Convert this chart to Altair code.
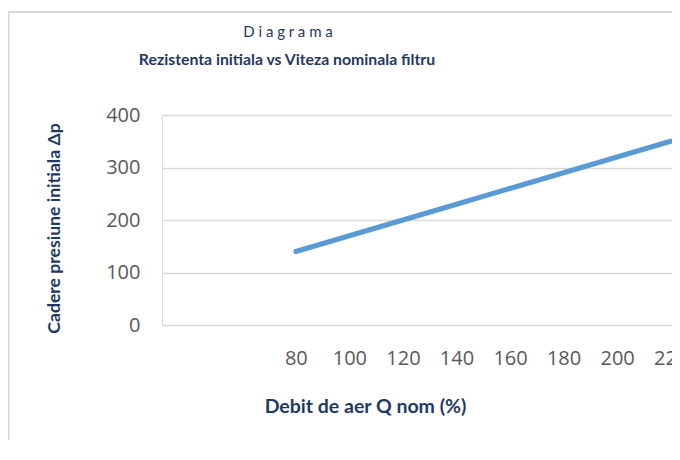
import altair as alt
import pandas as pd

debit = [80, 100, 120, 140, 160, 180, 200, 220]
cadere = [140, 170, 200, 230, 260, 290, 320, 350]
x_ticks = [80, 100, 120, 140, 160, 180, 200, 220]
y_ticks = [0, 100, 200, 300, 400]

title_text = "D i a g r a m a"
subtitle_text = "Rezistenta initiala vs Viteza nominala filtru"
x_title = "Debit de aer Q nom (%)"
y_title = "Cadere presiune initiala Δp"

df = pd.DataFrame({"debit": debit, "cadere": cadere})

NAVY = "#1f3864"
GRAY = "#595959"

line = alt.Chart(df).mark_line(
    color="#5b9bd5", strokeWidth=5, strokeCap="round", clip=False
).encode(
    x=alt.X(
        "debit:Q",
        scale=alt.Scale(domain=[30, 220.5], nice=False, zero=False),
        axis=alt.Axis(
            values=x_ticks, grid=False, domain=False, ticks=False,
            labelPadding=23, labelFontSize=20, labelColor=GRAY, labelFont="Open Sans",
            labelFlush=False, labelOverlap=False, labelBound=False,
            title=x_title, titleFont="Lato", titleFontSize=19.5, titleFontWeight="bold",
            titleColor=NAVY, titleX=203, titleY=81, titleBaseline="middle",
            titleAlign="center",
        ),
    ),
    y=alt.Y(
        "cadere:Q",
        scale=alt.Scale(domain=[0, 400], nice=False),
        axis=alt.Axis(
            values=y_ticks, grid=True, gridColor="#d9d9d9", gridWidth=1.3,
            domain=False, ticks=False, labelPadding=22, labelFontSize=20,
            labelColor=GRAY, labelFont="Open Sans",
            title=y_title, titleFont="Lato", titleFontSize=17.6, titleFontWeight="bold",
            titleColor=NAVY, titleX=-108, titleY=113, titleAngle=-90,
            titleBaseline="middle", titleAlign="center",
        ),
    ),
)

one = pd.DataFrame({"k": [0]})
border_left = alt.Chart(one).mark_rule(color="#d9d9d9", strokeWidth=2).encode(
    x=alt.value(-153.5), y=alt.value(-103), y2=alt.value(340)
)
border_top = alt.Chart(one).mark_rule(color="#d9d9d9", strokeWidth=2).encode(
    x=alt.value(-154), x2=alt.value(520), y=alt.value(-103)
)

title_mark = alt.Chart(pd.DataFrame({"t": [title_text]})).mark_text(
    font="Lato", fontSize=15, color=NAVY, align="center", baseline="middle"
).encode(text="t:N", x=alt.value(126), y=alt.value(-83.5))

subtitle_mark = alt.Chart(pd.DataFrame({"t": [subtitle_text]})).mark_text(
    font="Lato", fontSize=15.8, fontWeight="bold", color=NAVY, align="center", baseline="middle"
).encode(text="t:N", x=alt.value(125), y=alt.value(-55.5))

chart = alt.layer(border_left, border_top, title_mark, subtitle_mark, line).properties(
    width=510,
    height=210,
    autosize=alt.AutoSizeParams(type="none"),
    padding={"left": 154, "top": 107, "right": 0, "bottom": 115},
).configure_view(stroke=None).configure(background="white")

chart.save("out.html", embed_options={"renderer": "svg", "actions": False})
